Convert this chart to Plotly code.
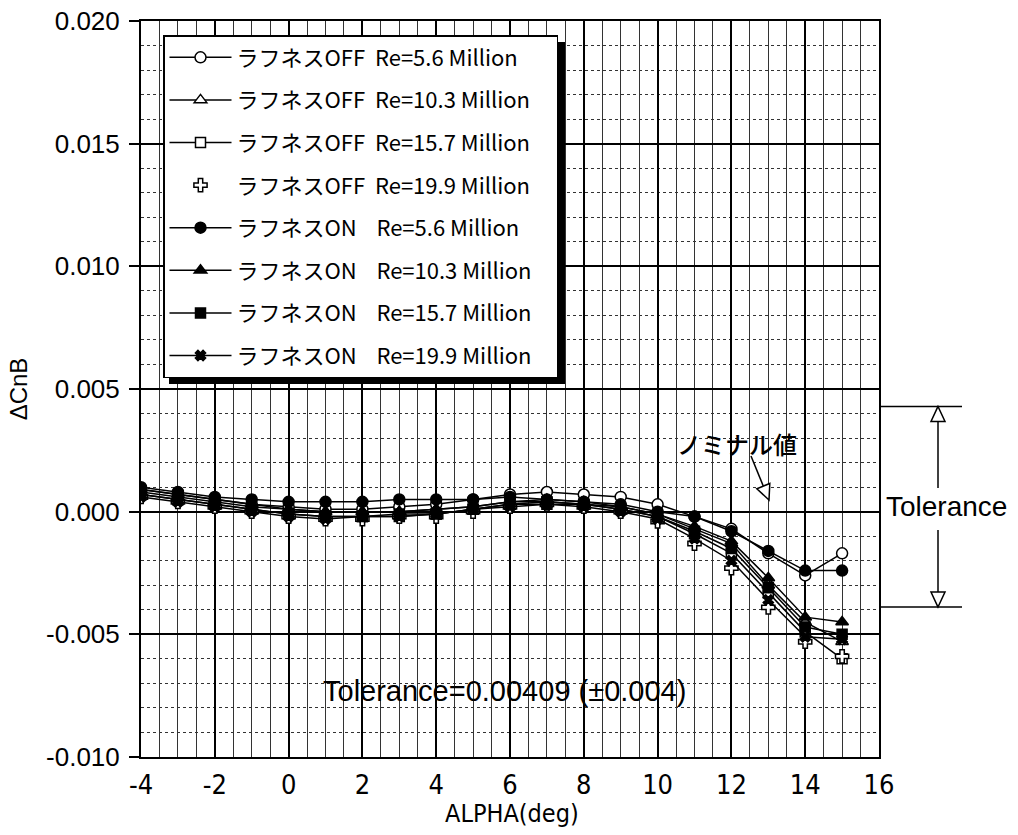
import math
import plotly.graph_objects as go

# Angle of attack (deg)
alpha = [-4, -3, -2, -1, 0, 1, 2, 3, 4, 5, 6, 7, 8, 9, 10, 11, 12, 13, 14, 15]

# Delta CnB, roughness OFF
off_56 = [0.0009, 0.0007, 0.0005, 0.0003, 0.0002, 0.0001, 0.0001, 0.0002, 0.0003, 0.0005,
          0.0007, 0.0008, 0.0007, 0.0006, 0.0003, -0.0002, -0.0007, -0.0017, -0.0026, -0.0017]
off_103 = [0.0009, 0.0007, 0.0005, 0.0003, 0.0001, 0.0000, 0.0000, 0.0000, 0.0001, 0.0002,
           0.0004, 0.0005, 0.0004, 0.0002, -0.0001, -0.0007, -0.0013, -0.0030, -0.0045, -0.0053]
off_157 = [0.0007, 0.0005, 0.0003, 0.0001, -0.0001, -0.0002, -0.0002, -0.0002, -0.0001, 0.0001,
           0.0003, 0.0004, 0.0003, 0.0001, -0.0002, -0.0009, -0.0017, -0.0033, -0.0049, -0.0060]
off_199 = [0.0006, 0.0004, 0.0002, 0.0000, -0.0002, -0.0003, -0.0003, -0.0002, -0.0002, 0.0000,
           0.0002, 0.0003, 0.0002, 0.0000, -0.0004, -0.0013, -0.0023, -0.0039, -0.0053, -0.0059]

# Delta CnB, roughness ON
on_56 = [0.0010, 0.0008, 0.0006, 0.0005, 0.0004, 0.0004, 0.0004, 0.0005, 0.0005, 0.0005,
         0.0006, 0.0005, 0.0004, 0.0003, 0.0000, -0.0002, -0.0008, -0.0016, -0.0024, -0.0024]
on_103 = [0.0008, 0.0006, 0.0004, 0.0002, 0.0001, 0.0000, 0.0000, 0.0000, 0.0001, 0.0002,
          0.0004, 0.0004, 0.0003, 0.0002, -0.0001, -0.0006, -0.0012, -0.0027, -0.0043, -0.0045]
on_157 = [0.0007, 0.0005, 0.0003, 0.0001, -0.0001, -0.0002, -0.0002, -0.0001, -0.0001, 0.0001,
          0.0003, 0.0003, 0.0003, 0.0001, -0.0002, -0.0008, -0.0015, -0.0031, -0.0047, -0.0050]
on_199 = [0.0006, 0.0004, 0.0002, 0.0000, -0.0002, -0.0003, -0.0002, -0.0002, -0.0001, 0.0001,
          0.0002, 0.0003, 0.0002, 0.0000, -0.0003, -0.0011, -0.0020, -0.0036, -0.0051, -0.0052]

NB = "\u00a0"
labels = [
    "ラフネスOFF" + NB * 2 + "Re=5.6 Million",
    "ラフネスOFF" + NB * 2 + "Re=10.3 Million",
    "ラフネスOFF" + NB * 2 + "Re=15.7 Million",
    "ラフネスOFF" + NB * 2 + "Re=19.9 Million",
    "ラフネスON" + NB * 4 + "Re=5.6 Million",
    "ラフネスON" + NB * 4 + "Re=10.3 Million",
    "ラフネスON" + NB * 4 + "Re=15.7 Million",
    "ラフネスON" + NB * 4 + "Re=19.9 Million",
]
values = [off_56, off_103, off_157, off_199, on_56, on_103, on_157, on_199]

x_tickvals = [-4, -2, 0, 2, 4, 6, 8, 10, 12, 14, 16]
x_ticktext = ["-4", "-2", "0", "2", "4", "6", "8", "10", "12", "14", "16"]
y_tickvals = [-0.010, -0.005, 0.000, 0.005, 0.010, 0.015, 0.020]
y_ticktext = ["-0.010", "-0.005", "0.000", "0.005", "0.010", "0.015", "0.020"]

tolerance = 0.00409
nominal = 0.0002

# marker style per series: (symbol, fill, size, mode)
styles = [
    ("circle", "white", 11, "lines+markers"),
    ("triangle-up", "white", 11, "lines+markers"),
    ("square", "white", 10, "lines+markers"),
    ("cross", "white", 11, "markers"),
    ("circle", "black", 11, "lines+markers"),
    ("triangle-up", "black", 11, "lines+markers"),
    ("square", "black", 10, "lines+markers"),
    ("x", "black", 9, "lines+markers"),
]

W, H = 1018, 835
L, R, T, B = 141, 879, 21, 757
XR = (-4, 16)
YR = (-0.010, 0.020)


def xd(px):
    return XR[0] + (px - L) / (R - L) * (XR[1] - XR[0])


def yd(py):
    return YR[1] - (py - T) / (B - T) * (YR[1] - YR[0])


def xp(px):
    return (px - L) / (R - L)


def yp(py):
    return (B - py) / (B - T)


fig = go.Figure()
for i, (name, vals, (sym, fill, size, mode)) in enumerate(zip(labels, values, styles)):
    fig.add_trace(go.Scatter(
        x=alpha, y=vals, name=name + NB * 4, mode=mode, legendgroup=f"g{i}",
        line=dict(color="black", width=1.5),
        marker=dict(symbol=sym, size=size, color=fill, line=dict(color="black", width=1.5)),
    ))

shapes = []

# legend drop shadow
shapes.append(dict(type="rect", xref="paper", yref="paper",
                   x0=xp(169), x1=xp(565), y0=yp(384), y1=yp(42),
                   fillcolor="black", line=dict(width=0), layer="above"))

# tolerance bracket to the right of the plot
top_v = nominal + tolerance
bot_v = nominal - tolerance
bx = xp(938)
for v in (top_v, bot_v):
    shapes.append(dict(type="line", xref="paper", yref="y", x0=xp(879), x1=xp(962), y0=v, y1=v,
                       line=dict(color="black", width=1.5)))
hw = 7 / (R - L)
hh = 15 * (YR[1] - YR[0]) / (B - T)
shapes.append(dict(type="line", xref="paper", yref="y", x0=bx, x1=bx,
                   y0=top_v - hh, y1=yd(488), line=dict(color="black", width=1.5)))
shapes.append(dict(type="line", xref="paper", yref="y", x0=bx, x1=bx,
                   y0=yd(530), y1=bot_v + hh, line=dict(color="black", width=1.5)))
shapes.append(dict(type="path", xref="paper", yref="y",
                   path=f"M {bx},{top_v} L {bx - hw},{top_v - hh} L {bx + hw},{top_v - hh} Z",
                   fillcolor="white", line=dict(color="black", width=1.5)))
shapes.append(dict(type="path", xref="paper", yref="y",
                   path=f"M {bx},{bot_v} L {bx - hw},{bot_v + hh} L {bx + hw},{bot_v + hh} Z",
                   fillcolor="white", line=dict(color="black", width=1.5)))

# nominal-value pointer with open arrowhead
sx, sy = 751, 456
tx, ty = 769, 500
d = math.hypot(tx - sx, ty - sy)
ux, uy = (tx - sx) / d, (ty - sy) / d
bxp, byp = tx - 15 * ux, ty - 15 * uy
nx, ny = -uy, ux
c1 = (bxp + 7 * nx, byp + 7 * ny)
c2 = (bxp - 7 * nx, byp - 7 * ny)
shapes.append(dict(type="line", xref="x", yref="y", x0=xd(sx), y0=yd(sy), x1=xd(bxp), y1=yd(byp),
                   line=dict(color="black", width=1.5)))
shapes.append(dict(type="path", xref="x", yref="y",
                   path=f"M {xd(tx)},{yd(ty)} L {xd(c1[0])},{yd(c1[1])} L {xd(c2[0])},{yd(c2[1])} Z",
                   fillcolor="white", line=dict(color="black", width=1.5)))

narrow = "Liberation Sans Narrow, DejaVu Sans Condensed, Arial Narrow, sans-serif"
annotations = [
    dict(xref="x", yref="y", x=xd(737), y=yd(443), text="ノミナル値", showarrow=False,
         xanchor="center", yanchor="middle",
         font=dict(family="Noto Sans CJK JP", size=24, color="black", weight=500)),
    dict(xref="paper", yref="y", x=xp(946), y=yd(506), text="Tolerance", showarrow=False,
         xanchor="center", yanchor="middle",
         font=dict(family="Liberation Sans, Arial, sans-serif", size=28, color="black")),
    dict(xref="x", yref="y", x=xd(504), y=yd(691), text="Tolerance=0.00409 (±0.004)", showarrow=False,
         xanchor="center", yanchor="middle",
         font=dict(family="Liberation Sans, Arial, sans-serif", size=29, color="black")),
    # x-axis title
    dict(xref="paper", yref="paper", x=xp(512), y=yp(813), text="ALPHA(deg)", showarrow=False,
         xanchor="center", yanchor="middle",
         font=dict(family=narrow, size=25, color="black")),
]

fig.update_layout(
    width=W, height=H,
    margin=dict(l=L, r=W - R, t=T, b=H - B, pad=0),
    paper_bgcolor="white", plot_bgcolor="white",
    shapes=shapes, annotations=annotations,
    legend=dict(
        x=xp(163), y=yp(35), xanchor="left", yanchor="top",
        bgcolor="white", bordercolor="black", borderwidth=1.5,
        font=dict(family="Noto Sans CJK JP", size=22, color="black"),
        tracegroupgap=11, itemwidth=62,
    ),
    xaxis=dict(
        range=list(XR), tickvals=x_tickvals, ticktext=x_ticktext, automargin=False,
        showgrid=True, gridcolor="black", gridwidth=1.5,
        minor=dict(dtick=0.5, showgrid=True, gridcolor="#333", gridwidth=1),
        showline=True, linecolor="black", linewidth=2, mirror=True,
        ticks="", zeroline=False, ticklabelstandoff=3,
        tickfont=dict(family=narrow, size=27, color="black"),
    ),
    yaxis=dict(
        range=list(YR), tickvals=y_tickvals, ticktext=y_ticktext, automargin=False,
        showgrid=True, gridcolor="black", gridwidth=1.5,
        minor=dict(dtick=0.001, showgrid=True, gridcolor="#333", gridwidth=1, griddash="dot"),
        showline=True, linecolor="black", linewidth=2, mirror=True,
        ticks="outside", ticklen=10, tickwidth=1.5, tickcolor="black", zeroline=False,
        ticklabelstandoff=4,
        tickfont=dict(family="Liberation Sans, Arial, sans-serif", size=26, color="black"),
        title=dict(text="ΔCnB", standoff=12,
                   font=dict(family="Liberation Sans, Arial, sans-serif", size=24, color="black")),
    ),
)

fig.write_html("out.html")
